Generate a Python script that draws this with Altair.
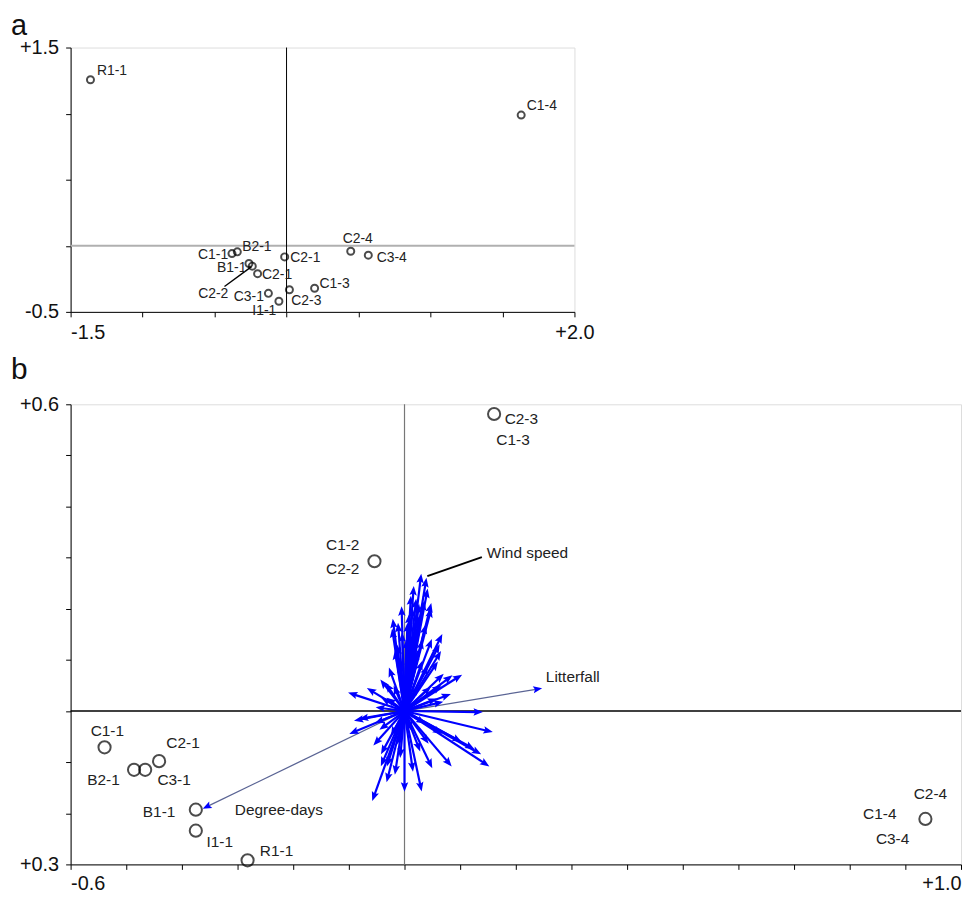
import math
import altair as alt
import pandas as pd

# ---------------- Panel a data ----------------
a_pt_x = [-1.362, 1.630, 0.446, 0.568, -0.379, -0.342, -0.013, -0.261, -0.238, -0.201, 0.195, 0.020, -0.126, -0.053]
a_pt_y = [1.256, 0.989, -0.041, -0.071, -0.059, -0.046, -0.084, -0.134, -0.154, -0.211, -0.321, -0.333, -0.360, -0.420]

a_lab_text = ["R1-1", "C1-4", "C2-4", "C3-4", "C1-1", "B2-1", "C2-1", "B1-1", "C2-1", "C1-3", "C2-3", "C3-1", "I1-1", "C2-2"]
a_lab_x = [-1.317, 1.669, 0.495, 0.626, -0.405, -0.308, 0.026, -0.279, -0.170, 0.229, 0.033, -0.157, -0.071, -0.509]
a_lab_y = [1.320, 1.061, 0.050, -0.091, -0.071, -0.009, -0.089, -0.166, -0.221, -0.288, -0.420, -0.390, -0.495, -0.366]
a_lab_align = ["left", "left", "center", "left", "right", "left", "left", "right", "left", "left", "left", "right", "right", "center"]

a_leader_x = [-0.431]
a_leader_y = [-0.308]
a_leader_x2 = [-0.243]
a_leader_y2 = [-0.158]

a_xticks = [-1.5, -1.0, -0.5, 0.0, 0.5, 1.0, 1.5, 2.0]
a_yticks = [-0.5, 0.0, 0.5, 1.0, 1.5]

# ---------------- Panel b data ----------------
b_pt_x = [0.161, -0.054, -0.539, -0.486, -0.466, -0.441, -0.375, -0.375, -0.282, 0.936]
b_pt_y = [0.581, 0.293, -0.071, -0.115, -0.115, -0.098, -0.193, -0.234, -0.292, -0.211]

b_lab_text = ["C2-3", "C1-3", "C1-2", "C2-2", "C1-1", "C2-1", "B2-1", "C3-1", "B1-1", "I1-1", "R1-1", "C2-4", "C1-4", "C3-4"]
b_lab_x = [0.180, 0.195, -0.111, -0.111, -0.534, -0.398, -0.541, -0.414, -0.441, -0.332, -0.230, 0.945, 0.854, 0.877]
b_lab_y = [0.572, 0.531, 0.325, 0.278, -0.039, -0.062, -0.134, -0.134, -0.198, -0.257, -0.274, -0.163, -0.202, -0.251]
b_lab_align = ["left", "center", "center", "center", "center", "center", "center", "center", "center", "center", "center", "center", "center", "center"]

# species / variable vectors (blue arrows)
arrow_x = [0.029, 0.038, 0.011, 0.020, 0.034, 0.046, 0.014, 0.046, -0.020, -0.011,
           0.005, 0.025, 0.064, 0.059, 0.061, 0.046, -0.021, -0.004, 0.016, 0.011,
           0.096, 0.079, 0.064, 0.059, 0.041, 0.061, 0.132, 0.150, -0.093, -0.038,
           -0.029, -0.082, -0.073, -0.091, -0.043, -0.038, -0.055, 0.000, 0.029, -0.038,
           -0.029, -0.016, -0.007, 0.014, 0.046, 0.079, 0.130, 0.145, 0.118, 0.095,
           -0.039, 0.025, 0.029, 0.007, -0.016, 0.038, 0.020, -0.016, -0.034, 0.050,
           -0.011, 0.038, -0.025, 0.055,
           0.000, 0.012, -0.008, 0.022, 0.030, 0.003, -0.012, 0.036, 0.008, 0.025,
           -0.005, 0.040, 0.016, -0.025, -0.020, 0.010, 0.030, -0.050, -0.030, 0.060,
           0.075, -0.060, -0.045]
arrow_y = [0.259, 0.251, 0.216, 0.210, 0.206, 0.202, 0.192, 0.192, 0.171, 0.163,
           0.163, 0.177, 0.142, 0.122, 0.109, 0.132, 0.152, 0.144, 0.144, 0.124,
           0.066, 0.064, 0.066, 0.045, 0.041, 0.016, -0.002, -0.039, 0.033, 0.054,
           0.047, -0.017, -0.014, -0.041, 0.006, -0.031, -0.167, -0.148, -0.148, -0.076,
           -0.099, -0.115, -0.082, -0.109, -0.103, -0.101, -0.080, -0.103, -0.070, -0.056,
           -0.099, -0.070, 0.089, 0.099, 0.109, 0.080, 0.041, 0.041, 0.021, 0.021,
           -0.056, -0.056, 0.076, 0.089,
           0.060, 0.075, 0.085, 0.110, 0.130, 0.130, 0.120, 0.160, 0.180, 0.200,
           0.195, 0.230, 0.235, 0.020, -0.040, -0.030, -0.020, -0.060, -0.130, -0.040,
           0.030, 0.040, -0.020]

# environmental vectors
env_name = ["Litterfall", "Degree-days"]
env_x = [0.239, -0.355]
env_y = [0.043, -0.187]
env_lab_x = [0.254, -0.305]
env_lab_y = [0.066, -0.194]

wind_lab_x = [0.148]
wind_lab_y = [0.309]
wind_leader_x = [0.041]
wind_leader_y = [0.264]
wind_leader_x2 = [0.139]
wind_leader_y2 = [0.301]

b_xticks = [-0.6, -0.5, -0.4, -0.3, -0.2, -0.1, 0.0, 0.1, 0.2, 0.3, 0.4, 0.5, 0.6, 0.7, 0.8, 0.9, 1.0]
b_yticks = [-0.3, -0.2, -0.1, 0.0, 0.1, 0.2, 0.3, 0.4, 0.5, 0.6]

# ---------------- layout ----------------
WA, HA = 507, 266
WB, HB = 896, 463
FONT = "Liberation Sans"
TXT = "#222222"
BLUE = "#0000ff"
YEXT = 57

a_xdom = [-1.5, 2.0]
a_ydom = [-0.5, 1.5]
b_xdom = [-0.6, 1.0]
b_ydom = [-0.3, 0.6]


def axis_common(**kw):
    base = dict(domainColor="black", tickColor="black", tickSize=5, grid=False,
                labelFont=FONT, labelFontSize=20, labelColor="#111111")
    base.update(kw)
    return alt.Axis(**base)


# ---------- panel a ----------
ax_a_x = axis_common(values=a_xticks,
                     labelExpr="datum.value < -1.4 ? '-1.5' : (datum.value > 1.9 ? '+2.0' : '')",
                     labelAlign={"condition": {"test": "datum.value < 0", "value": "left"}, "value": "center"},
                     labelPadding=6)
ax_a_y = axis_common(values=a_yticks,
                     labelExpr="datum.value > 1.4 ? '+1.5' : (datum.value < -0.4 ? '-0.5' : '')",
                     minExtent=YEXT, maxExtent=YEXT, labelPadding=7)

xa = alt.X("x:Q", scale=alt.Scale(domain=a_xdom, nice=False, zero=False), axis=ax_a_x, title=None)
ya = alt.Y("y:Q", scale=alt.Scale(domain=a_ydom, nice=False, zero=False), axis=ax_a_y, title=None)

a_pts = pd.DataFrame({"x": a_pt_x, "y": a_pt_y})
a_labs = pd.DataFrame({"x": a_lab_x, "y": a_lab_y, "t": a_lab_text, "al": a_lab_align})
a_lead = pd.DataFrame({"x": a_leader_x, "y": a_leader_y, "x2": a_leader_x2, "y2": a_leader_y2})
a_zero = pd.DataFrame({"x": [0.0], "y": [0.0]})

a_vline = alt.Chart(a_zero).mark_rule(color="black", strokeWidth=1).encode(x=xa)
a_hline = alt.Chart(a_zero).mark_rule(color="#b0b0b0", strokeWidth=2).encode(y=ya)
a_circ = alt.Chart(a_pts).mark_point(shape="circle", size=50, filled=False, color="black",
                                     strokeWidth=2).encode(x=xa, y=ya)
a_leadline = alt.Chart(a_lead).mark_rule(color="black", strokeWidth=1.4).encode(x=xa, y=ya, x2="x2:Q", y2="y2:Q")
a_text_layers = []
for al in ["left", "center", "right"]:
    a_text_layers.append(
        alt.Chart(a_labs).transform_filter(alt.datum.al == al).mark_text(
            align=al, baseline="middle", font=FONT, fontSize=14, color=TXT
        ).encode(x=xa, y=ya, text="t:N")
    )

panel_a = alt.layer(a_hline, a_vline, a_leadline, a_circ, *a_text_layers).properties(
    width=WA, height=HA,
    title=alt.Title("a", anchor="start", frame="bounds", fontSize=29, fontWeight="normal",
                    font=FONT, color="#111111", dx=-3, offset=-3),
)

# ---------- panel b ----------
ax_b_x = axis_common(values=b_xticks,
                     labelExpr="datum.value < -0.55 ? '-0.6' : (datum.value > 0.95 ? '+1.0' : '')",
                     labelFlush=True, labelPadding=4)
ax_b_y = axis_common(values=b_yticks,
                     labelExpr="datum.value > 0.55 ? '+0.6' : (datum.value < -0.25 ? '+0.3' : '')",
                     minExtent=YEXT, maxExtent=YEXT, labelPadding=7)

xb = alt.X("x:Q", scale=alt.Scale(domain=b_xdom, nice=False, zero=False), axis=ax_b_x, title=None)
yb = alt.Y("y:Q", scale=alt.Scale(domain=b_ydom, nice=False, zero=False), axis=ax_b_y, title=None)

px_x = WB / (b_xdom[1] - b_xdom[0])
px_y = HB / (b_ydom[1] - b_ydom[0])


def heading(dx, dy):
    return math.degrees(math.atan2(dx * px_x, dy * px_y)) % 360


arr = pd.DataFrame({"x": [0.0] * len(arrow_x), "y": [0.0] * len(arrow_y), "x2": arrow_x, "y2": arrow_y})
arr["ang"] = [heading(a, b) for a, b in zip(arrow_x, arrow_y)]
env = pd.DataFrame({"x": [0.0] * len(env_x), "y": [0.0] * len(env_y), "x2": env_x, "y2": env_y, "name": env_name})
env["ang"] = [heading(a, b) for a, b in zip(env_x, env_y)]

b_zero = pd.DataFrame({"x": [0.0], "y": [0.0]})
b_vline = alt.Chart(b_zero).mark_rule(color="#777777", strokeWidth=1.2).encode(x=xb)
b_hline = alt.Chart(b_zero).mark_rule(color="black", strokeWidth=1.4).encode(y=yb)

ARROW = "M0,-1L0.75,0.9L0,0.55L-0.75,0.9Z"

xb2 = alt.X("x2:Q", scale=alt.Scale(domain=b_xdom, nice=False, zero=False), axis=ax_b_x, title=None)
yb2 = alt.Y("y2:Q", scale=alt.Scale(domain=b_ydom, nice=False, zero=False), axis=ax_b_y, title=None)

env_lines = alt.Chart(env).mark_rule(color="#5a6494", strokeWidth=1.3).encode(x=xb, y=yb, x2="x2:Q", y2="y2:Q")
env_heads = alt.Chart(env).mark_point(shape=ARROW, size=90, filled=True, color=BLUE, opacity=1).encode(
    x=xb2, y=yb2, angle=alt.Angle("ang:Q", scale=None),
)
arr_lines = alt.Chart(arr).mark_rule(color=BLUE, strokeWidth=2.2).encode(x=xb, y=yb, x2="x2:Q", y2="y2:Q")
arr_heads = alt.Chart(arr).mark_point(shape=ARROW, size=100, filled=True, color=BLUE, opacity=1).encode(
    x=xb2, y=yb2, angle=alt.Angle("ang:Q", scale=None),
)

wind_lead = pd.DataFrame({"x": wind_leader_x, "y": wind_leader_y, "x2": wind_leader_x2, "y2": wind_leader_y2})
wind_line = alt.Chart(wind_lead).mark_rule(color="black", strokeWidth=2).encode(x=xb, y=yb, x2="x2:Q", y2="y2:Q")

b_pts = pd.DataFrame({"x": b_pt_x, "y": b_pt_y})
b_circ = alt.Chart(b_pts).mark_point(shape="circle", size=150, filled=False, color="black",
                                     strokeWidth=2).encode(x=xb, y=yb)

b_labs = pd.DataFrame({"x": b_lab_x, "y": b_lab_y, "t": b_lab_text, "al": b_lab_align})
b_text_layers = []
for al in ["left", "center"]:
    b_text_layers.append(
        alt.Chart(b_labs).transform_filter(alt.datum.al == al).mark_text(
            align=al, baseline="middle", font=FONT, fontSize=15.5, color=TXT
        ).encode(x=xb, y=yb, text="t:N")
    )

env_lab = pd.DataFrame({"x": env_lab_x + wind_lab_x, "y": env_lab_y + wind_lab_y,
                        "t": env_name + ["Wind speed"]})
env_text = alt.Chart(env_lab).mark_text(align="left", baseline="middle", font=FONT, fontSize=15.5,
                                        color=TXT).encode(x=xb, y=yb, text="t:N")

panel_b = alt.layer(b_hline, b_vline, env_lines, arr_lines, arr_heads, env_heads, wind_line,
                    b_circ, *b_text_layers, env_text).properties(
    width=WB, height=HB,
    title=alt.Title("b", anchor="start", frame="bounds", fontSize=30, fontWeight="normal",
                    font=FONT, color="#111111", dx=-3, offset=9),
)

chart = alt.vconcat(panel_a, panel_b, spacing=11).properties(
    padding={"left": 2, "right": 0, "top": 0, "bottom": -4}
).configure_view(
    stroke="black", strokeWidth=1.5
).configure(background="white")

chart.save("out.html", embed_options={"renderer": "svg", "actions": False})
